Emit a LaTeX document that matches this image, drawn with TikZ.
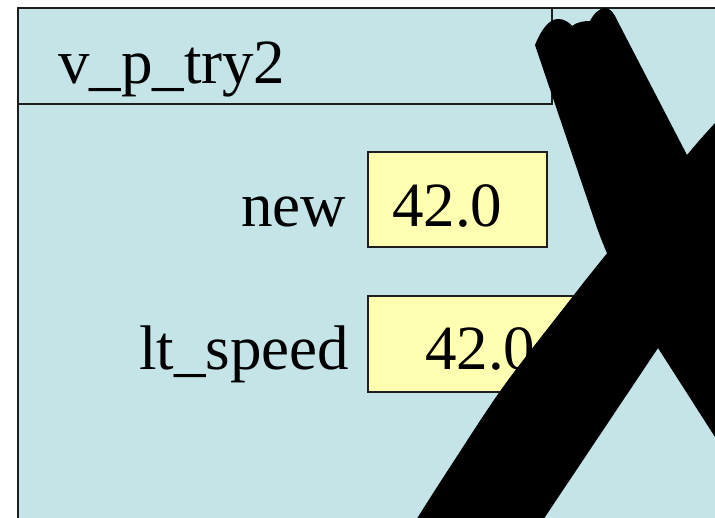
\documentclass[tikz,border=0pt]{standalone}
\usepackage{fontspec}
\setmainfont{Liberation Serif}
\definecolor{panelblue}{RGB}{196,228,232}
\definecolor{slotyellow}{RGB}{255,255,178}
\definecolor{edge}{RGB}{30,30,30}
\begin{document}
\begin{tikzpicture}[x=1pt,y=-1pt,
  every node/.style={inner sep=0pt, outer sep=0pt},
  big/.style={font=\fontsize{63}{70}\selectfont},
  framebox/.style={draw=edge, line width=1.3pt, fill=panelblue},
  slotbox/.style={draw=edge, line width=1.3pt, fill=slotyellow, anchor=north west},
  ink/.style={fill=black}]
\useasboundingbox (0,0) rectangle (715,517);
\clip (0,0) rectangle (715,517);
\fill[white] (0,0) rectangle (715,517);

% frame and its title bar
\node[framebox, anchor=north west, minimum width=760, minimum height=560] (frame) at (18,8) {};
\node[framebox, anchor=north west, minimum width=534, minimum height=96] (titlebar) at (18,8) {};
\node[big, anchor=base west] (title) at (58,83) {v\_p\_try2};

% variables
\node[slotbox, minimum width=179, minimum height=95] (newbox) at (368,152) {};
\node[big, anchor=base west] (newval) at (392,226) {42.0};
\node[big, anchor=base east] (newlbl) at (346,226) {new};

\node[slotbox, minimum width=222, minimum height=96] (ltbox) at (368,296) {};
\node[big, anchor=base west] (ltval) at (425,369) {42.0};
\node[big, anchor=base east] (ltlbl) at (349,369) {lt\_speed};

% the crossing-out mark: first stroke, top left to bottom right
\fill[ink] (535,45) .. controls (541,30) and (549,19) .. (558,19)
  .. controls (564,19) and (569,22) .. (572,26)
  .. controls (577,22) and (584,21) .. (590,21)
  .. controls (594,13) and (600,8) .. (605,8)
  .. controls (610,8) and (614,13) .. (617,20)
  -- (687,155) -- (780,320) -- (780,470) -- (715,437) -- (658,348)
  .. controls (630,303) and (610,265) .. (596,225)
  -- cycle;
% second stroke, bottom left to top right
\fill[ink] plot[smooth] coordinates {(405,540) (418,517) (450,467) (503,387) (570,300) (600,262) (687,155) (715,123) (740,95)}
  -- (780,95) -- (780,200) -- (658,348) -- (545,517) -- (530,540) -- cycle;
\end{tikzpicture}
\end{document}
